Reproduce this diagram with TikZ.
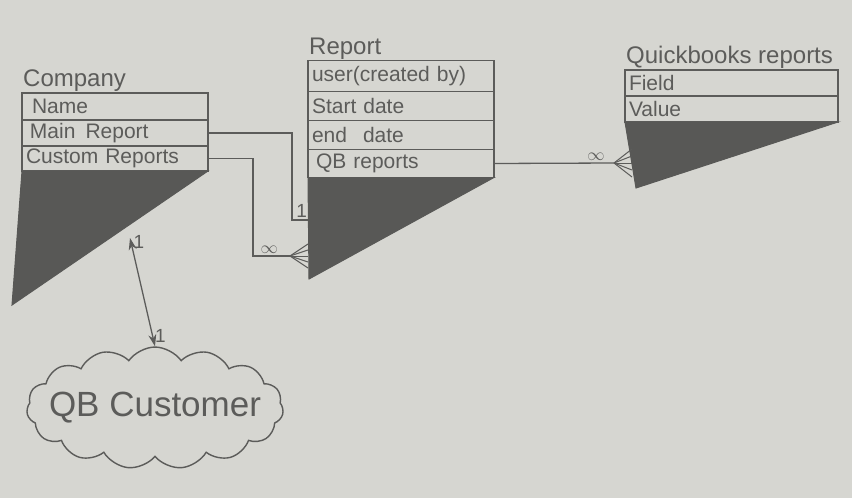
\documentclass[tikz,border=0pt]{standalone}
\usepackage{fontspec}
\setmainfont{Liberation Sans}
\usetikzlibrary{positioning, shapes.symbols, arrows.meta, calc}

\definecolor{paper}{RGB}{214,214,209}
\definecolor{pencil}{RGB}{92,92,90}
\definecolor{lead}{RGB}{88,88,86}

\begin{document}
\begin{tikzpicture}[x=1pt, y=-1pt]
	\tikzstyle{row}=[draw=pencil, line width=1.4pt, rectangle, outer sep=0pt, inner xsep=4pt, inner ysep=0pt, align=left, text=pencil, font=\fontsize{21}{23}\selectfont]
\tikzstyle{title}=[anchor=south west, inner sep=1pt, text=pencil, font=\fontsize{24}{26}\selectfont]
\tikzstyle{shade}=[fill=lead, draw=lead, line width=1pt]
\tikzstyle{link}=[draw=pencil, line width=1.3pt]
\tikzstyle{card}=[text=pencil, inner sep=2pt, font=\fontsize{19}{21}\selectfont]
\fill[paper] (0,0) rectangle (852,498);
\useasboundingbox (0,0) rectangle (852,498);
% Company
\node[row, text width=178pt, minimum height=27pt] (comp-name) at (115,106.5) {\hspace*{6pt}Name};
\node[row, text width=178pt, minimum height=26pt] (comp-main) [below=0pt of comp-name] {\hspace*{4pt}Main\hspace{10pt}Report};
\node[row, text width=178pt, minimum height=25pt] (comp-custom) [below=0pt of comp-main] {Custom Reports};
\node[title] (comp-title) at (comp-name.north west) {Company};
\coordinate (comp-tip) at (12,305);
\fill[shade] (comp-custom.south west) -- (comp-custom.south east) -- (comp-tip) -- cycle;
% Report
\node[row, text width=178pt, minimum height=31pt] (rep-user) at (401,76) {user(created by)};
\node[row, text width=178pt, minimum height=29pt] (rep-start) [below=0pt of rep-user] {Start date};
\node[row, text width=178pt, minimum height=29pt] (rep-end) [below=0pt of rep-start] {end\hspace{16pt}date};
\node[row, text width=178pt, minimum height=28pt] (rep-qb) [below=0pt of rep-end] {\hspace*{4pt}QB reports};
\node[title] (rep-title) at (rep-user.north west) {Report};
\coordinate (rep-tip) at (309,279);
\fill[shade] (rep-qb.south west) -- (rep-qb.south east) -- (rep-tip) -- cycle;
% Quickbooks reports
\node[row, text width=205pt, minimum height=26pt] (qbr-field) at (731.5,83) {Field};
\node[row, text width=205pt, minimum height=26pt] (qbr-value) [below=0pt of qbr-field] {Value};
\node[title] (qbr-title) at (qbr-field.north west) {Quickbooks reports};
\coordinate (qbr-tip) at (636,188);
\fill[shade] (qbr-value.south west) -- (qbr-value.south east) -- (qbr-tip) -- cycle;
% QB Customer
\node[cloud, cloud puffs=15, cloud puff arc=110, aspect=2.6, draw=pencil, line width=1.4pt, inner xsep=-17pt, inner ysep=-10pt, text=pencil, font=\fontsize{35}{37}\selectfont] (cust) at (155,408) {QB Customer};
% connectors
\coordinate (rep-one) at (308,220);
\coordinate (rep-many) at (290,256);
\coordinate (qbr-many) at (614,163);
\coordinate (comp-foot) at (130,238);
\draw[link] (comp-main.east) -- ++(84,0) |- (rep-one) node[card, pos=0.8, above] {1};
\draw[link] (comp-custom.east) -- ++(45,0) |- (rep-many) node[card, pos=0.72, above] {$\infty$};
\draw[link] (rep-qb.east) -- (qbr-many) node[card, pos=0.85, above] {$\infty$};
\foreach \dy in {-12,-6,0,6,12}
	\draw[link, line width=1pt] (rep-many) -- ++(18,\dy);
\foreach \dy in {-14,-7,0,7,14}
	\draw[link, line width=1pt] (qbr-many) -- ++(18,\dy);
\draw[link, {Stealth[length=12pt,width=8pt]}-{Stealth[length=12pt,width=8pt]}] (comp-foot) -- (cust.north)
	node[card, pos=0.04, right] {1}
	node[card, pos=0.9, right] {1};
\end{tikzpicture}
\end{document}
